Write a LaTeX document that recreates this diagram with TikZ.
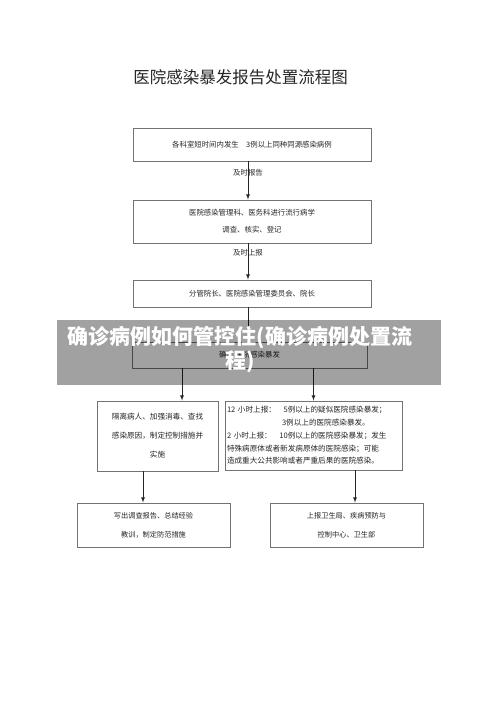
\documentclass[tikz,border=0pt]{standalone}
\usepackage{fontspec}
\setmainfont{Noto Sans CJK SC}
\usetikzlibrary{arrows,positioning}

\begin{document}
\begin{tikzpicture}[x=1pt,y=-1pt,>=latex]
				\tikzstyle{every node}=[font=\fontsize{7.4}{17}\selectfont,text=black!85]
				\tikzstyle{box}=[draw=black!55,line width=0.9pt,inner sep=2pt,align=center]
				\tikzstyle{link}=[->,draw=black!85,line width=0.8pt]
				\useasboundingbox[fill=white] (0,0) rectangle (500,707);
				%Title
				\node(title) at (240.5,77){\fontsize{16.5}{20}\selectfont 医院感染暴发报告处置流程图};
				%Main column
				\node[box,minimum width=238,minimum height=33](b1) at (252,144.5){各科室短时间内发生　3例以上同种同源感染病例};
				\node[box,minimum width=238,minimum height=43](b2) at (252,221.5){医院感染管理科、医务科进行流行病学\\调查、核实、登记};
				\node[box,minimum width=238,minimum height=27](b3) at (252,293.5){分管院长、医院感染管理委员会、院长};
				\node[box,minimum width=235,minimum height=26](b4) at (249.5,355){确定 医院感染暴发};
				%Middle row
				\node[box,minimum width=121,minimum height=70,font=\fontsize{7.6}{19}\selectfont](lbox) at (157.5,436){隔离病人、加强消毒、查找\\感染原因，制定控制措施并\\实施};
				\node[box,text width=173,minimum height=69,align=left,font=\fontsize{7.6}{12.8}\selectfont](rbox) at (313.5,435.5){12 小时上报：　5例以上的疑似医院感染暴发；\\\hspace*{55pt}3例以上的医院感染暴发。\\2 小时上报：　10例以上的医院感染暴发；发生\\特殊病原体或者新发病原体的医院感染；可能\\造成重大公共影响或者严重后果的医院感染。};
				%Bottom row
				\node[box,minimum width=153,minimum height=44,font=\fontsize{7.2}{19}\selectfont](bl) at (153.5,525){写出调查报告、总结经验\\教训，制定防范措施};
				\node[box,minimum width=153,minimum height=44,font=\fontsize{7.2}{19}\selectfont](br) at (346.5,525){上报卫生局、疾病预防与\\控制中心、卫生部};
				%Connectors
				\draw[link] ([xshift=-4pt]b1.south) -- node[pos=0.3]{及时报告} ([xshift=-4pt]b2.north);
				\draw[link] ([xshift=-4pt]b2.south) -- node[pos=0.25]{及时上报} ([xshift=-4pt]b3.north);
				\draw[link] ([xshift=-4pt]b3.south) -- ([xshift=-1.5pt]b4.north);
				\draw[link] ([xshift=-67.5pt]b4.south) -- ([xshift=24.5pt]lbox.north);
				\draw[link] (b4.south -| rbox.north) -- (rbox.north);
				\draw[link] ([xshift=-14.5pt]lbox.south) -- ([xshift=-10.5pt]bl.north);
				\draw[link] ([xshift=41.5pt]rbox.south) -- ([xshift=8.5pt]br.north);
				%Banner
				\fill[black,opacity=0.37] (57,320) rectangle (441,385);
				\node[text=white,align=center,font=\fontsize{21}{24}\selectfont\bfseries](banner) at (240,350){确诊病例如何管控住(确诊病例处置流\\程)};
				\end{tikzpicture}
\end{document}
